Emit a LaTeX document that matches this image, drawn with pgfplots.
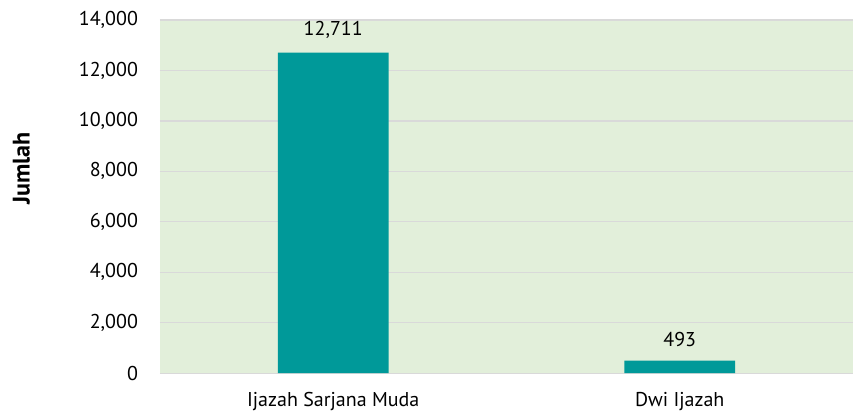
\documentclass[border=0pt]{standalone}
\usepackage{fontspec}
\setmainfont{PT Sans}
\usepackage{pgfplots}
\pgfplotsset{compat=1.18}
\usetikzlibrary{calc}
\definecolor{bar}{HTML}{009999}
\definecolor{bg}{HTML}{E2EFDA}
\definecolor{grd}{HTML}{D9D9D9}

\begin{document}
\begin{tikzpicture}
\begin{axis}[
    name=a,
    scale only axis, width=520pt, height=265pt,
    ybar, bar width=0.32,
    xmin=-0.5, xmax=1.5,
    ymin=0, ymax=14000, ytick={0,2000,...,14000},
    xtick=data, xticklabels={Ijazah Sarjana Muda, Dwi Ijazah},
    major tick length=0pt,
    font=\fontsize{15}{18}\selectfont,
    /pgf/number format/assume math mode=true,
    /pgf/number format/.cd, fixed, 1000 sep={,}, /pgfplots/.cd,
    scaled y ticks=false,
    ylabel={\textbf{Jumlah}},
    ylabel style={at={(axis description cs:-0.2,0.58)}, anchor=center, font=\fontsize{18}{20}\selectfont},
    axis background/.style={fill=bg},
    ymajorgrids, grid style={grd, line width=1pt},
    axis x line*=bottom, axis y line*=left,
    x axis line style={grd, line width=1pt},
    y axis line style={draw=none},
    xticklabel style={yshift=-11pt},
    yticklabel style={xshift=-13pt},
    nodes near coords,
    nodes near coords style={/pgf/number format/.cd, fixed, 1000 sep={,}, assume math mode=true, /tikz/.cd, yshift=7pt, text=black},
    clip=false,
]
\addplot[fill=bar, draw=none] coordinates {(0,12711) (1,493)};
\end{axis}
\pgfresetboundingbox
\path ($(a.south west)+(-120pt,-32pt)$) rectangle ($(a.north east)+(0,15pt)$);
\end{tikzpicture}
\end{document}
